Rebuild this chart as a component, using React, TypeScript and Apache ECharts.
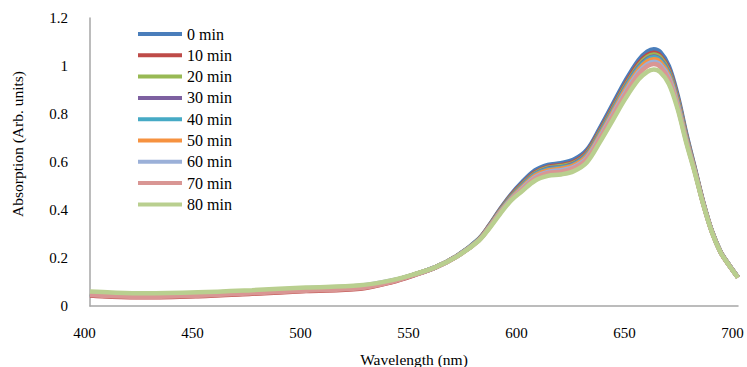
import React, { useEffect, useRef } from "react";
import * as echarts from "echarts";

const wavelengths = [400, 410, 425, 450, 475, 500, 525, 540, 550, 560, 570, 580, 585, 590, 595, 600, 606, 612, 618, 624, 630, 636, 642, 648, 654, 658, 661, 664, 668, 672, 676, 680, 684, 688, 692, 696, 700];

const seriesNames = ["0 min", "10 min", "20 min", "30 min", "40 min", "50 min", "60 min", "70 min", "80 min"];
const seriesColors = ["#4A7EBB", "#BE4B48", "#98B954", "#7D60A0", "#46AAC5", "#F69240", "#9BB0D8", "#D99694", "#B9CF8F"];

const min0 = [0.048, 0.043, 0.040, 0.045, 0.055, 0.066, 0.076, 0.103, 0.130, 0.162, 0.210, 0.280, 0.338, 0.405, 0.465, 0.515, 0.565, 0.588, 0.595, 0.610, 0.650, 0.740, 0.840, 0.940, 1.025, 1.060, 1.070, 1.058, 1.000, 0.880, 0.720, 0.575, 0.430, 0.310, 0.225, 0.170, 0.120];
const min10 = [0.044, 0.039, 0.036, 0.041, 0.051, 0.062, 0.072, 0.100, 0.128, 0.161, 0.209, 0.278, 0.336, 0.402, 0.461, 0.508, 0.557, 0.580, 0.587, 0.601, 0.641, 0.730, 0.828, 0.927, 1.011, 1.045, 1.055, 1.043, 0.986, 0.869, 0.712, 0.570, 0.427, 0.309, 0.224, 0.169, 0.119];
const min20 = [0.052, 0.047, 0.044, 0.049, 0.059, 0.070, 0.080, 0.105, 0.131, 0.162, 0.209, 0.277, 0.334, 0.399, 0.457, 0.504, 0.553, 0.576, 0.583, 0.597, 0.636, 0.724, 0.822, 0.920, 1.003, 1.038, 1.048, 1.036, 0.979, 0.863, 0.708, 0.568, 0.426, 0.309, 0.224, 0.169, 0.119];
const min30 = [0.050, 0.045, 0.042, 0.047, 0.057, 0.068, 0.078, 0.104, 0.130, 0.161, 0.208, 0.276, 0.333, 0.397, 0.454, 0.500, 0.549, 0.572, 0.578, 0.593, 0.632, 0.719, 0.816, 0.914, 0.996, 1.030, 1.040, 1.028, 0.972, 0.857, 0.704, 0.566, 0.425, 0.308, 0.224, 0.169, 0.119];
const min40 = [0.052, 0.047, 0.044, 0.049, 0.059, 0.070, 0.080, 0.105, 0.131, 0.162, 0.208, 0.276, 0.332, 0.396, 0.452, 0.498, 0.547, 0.569, 0.576, 0.590, 0.629, 0.716, 0.813, 0.910, 0.992, 1.026, 1.036, 1.024, 0.968, 0.853, 0.701, 0.565, 0.424, 0.308, 0.223, 0.169, 0.119];
const min50 = [0.054, 0.049, 0.046, 0.051, 0.061, 0.072, 0.082, 0.106, 0.131, 0.162, 0.208, 0.275, 0.331, 0.394, 0.449, 0.494, 0.543, 0.565, 0.572, 0.586, 0.625, 0.711, 0.807, 0.903, 0.985, 1.019, 1.028, 1.017, 0.961, 0.847, 0.697, 0.563, 0.423, 0.307, 0.223, 0.169, 0.119];
const min60 = [0.056, 0.051, 0.048, 0.053, 0.063, 0.074, 0.084, 0.107, 0.131, 0.162, 0.208, 0.274, 0.330, 0.392, 0.446, 0.489, 0.537, 0.559, 0.566, 0.580, 0.618, 0.704, 0.799, 0.894, 0.975, 1.008, 1.018, 1.006, 0.951, 0.839, 0.692, 0.561, 0.422, 0.307, 0.223, 0.169, 0.119];
const min70 = [0.046, 0.041, 0.038, 0.043, 0.053, 0.064, 0.074, 0.101, 0.129, 0.161, 0.207, 0.273, 0.328, 0.390, 0.443, 0.485, 0.532, 0.554, 0.560, 0.575, 0.612, 0.697, 0.791, 0.885, 0.966, 0.999, 1.008, 0.997, 0.942, 0.831, 0.688, 0.559, 0.421, 0.306, 0.222, 0.168, 0.118];
const min80 = [0.060, 0.056, 0.053, 0.057, 0.066, 0.077, 0.086, 0.108, 0.132, 0.162, 0.207, 0.272, 0.325, 0.385, 0.440, 0.478, 0.522, 0.542, 0.548, 0.562, 0.598, 0.682, 0.774, 0.866, 0.944, 0.976, 0.985, 0.974, 0.925, 0.822, 0.682, 0.555, 0.420, 0.305, 0.222, 0.168, 0.118];

const allValues = [min0, min10, min20, min30, min40, min50, min60, min70, min80];

const FONT = "Liberation Serif, serif";

export default function App() {
  const ref = useRef<HTMLDivElement>(null);
  useEffect(() => {
    if (!ref.current) return;
    const chart = echarts.init(ref.current, null, { renderer: "svg" });
    const series = seriesNames.map((name, i) => ({
      name,
      type: "line",
      symbol: "none",
      smooth: 0.35,
      data: wavelengths.map((w, j) => [w, allValues[i][j]]),
      lineStyle: { width: 4.5, color: seriesColors[i] },
      itemStyle: { color: seriesColors[i] },
    }));
    chart.setOption({
      animation: false,
      backgroundColor: "#ffffff",
      textStyle: { fontFamily: FONT },
      grid: { left: 90, right: 9, top: 18, bottom: 61, containLabel: false, outerBoundsMode: "none" },
      legend: {
        orient: "vertical",
        left: 133,
        top: 21,
        icon: "rect",
        itemWidth: 44,
        itemHeight: 4,
        itemGap: 5.3,
        data: seriesNames,
        textStyle: { fontFamily: FONT, fontSize: 16, color: "#000", lineHeight: 16 },
      },
      xAxis: {
        type: "value",
        min: 400,
        max: 700,
        interval: 50,
        name: "Wavelength (nm)",
        nameLocation: "middle",
        nameGap: 45,
        nameTextStyle: { fontFamily: FONT, fontSize: 15.5, color: "#000" },
        axisLine: { show: true, lineStyle: { color: "#A6A6A6", width: 1.5 } },
        axisTick: { show: false },
        splitLine: { show: false },
        axisLabel: { fontFamily: FONT, fontSize: 15, color: "#000", margin: 19, padding: [0, 11, 0, 0] },
      },
      yAxis: {
        type: "value",
        min: 0,
        max: 1.2,
        interval: 0.2,
        axisLine: { show: true, lineStyle: { color: "#A6A6A6", width: 1.5 } },
        axisTick: { show: false },
        splitLine: { show: false },
        axisLabel: { fontFamily: FONT, fontSize: 15, color: "#000", margin: 22 },
      },
      graphic: [
        {
          type: "text",
          x: 17,
          y: 144,
          rotation: Math.PI / 2,
          style: {
            text: "Absorption (Arb. units)",
            fontFamily: FONT,
            fontSize: 15.5,
            fill: "#000",
            align: "center",
            verticalAlign: "middle",
          },
        },
      ],
      series,
    });
    return () => chart.dispose();
  }, []);
  return <div ref={ref} style={{ width: 747, height: 367, position: "absolute", left: 0, top: 0 }} />;
}
